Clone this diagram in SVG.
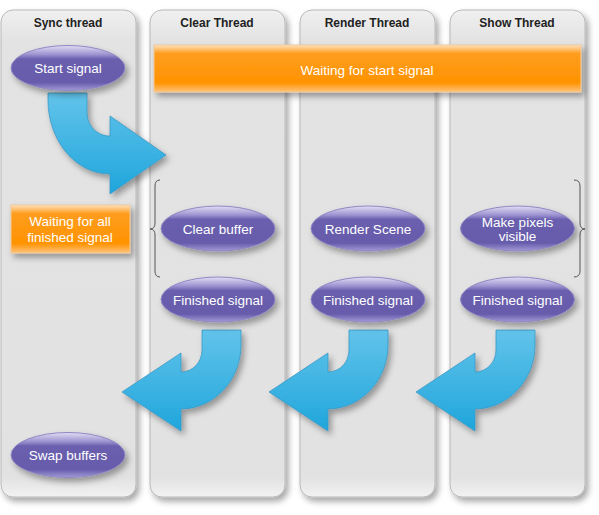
<svg xmlns="http://www.w3.org/2000/svg" width="599" height="515" viewBox="0 0 599 515">
<defs>
<linearGradient id="laneG" x1="0" y1="0" x2="0" y2="1">
<stop offset="0" stop-color="#f0f0f0"/><stop offset="0.06" stop-color="#e3e3e3"/><stop offset="0.96" stop-color="#e2e2e2"/><stop offset="1" stop-color="#f2f2f2"/>
</linearGradient>
<linearGradient id="orG" x1="0" y1="0" x2="0" y2="1">
<stop offset="0" stop-color="#ffe2bd"/><stop offset="0.18" stop-color="#ff9d1e"/><stop offset="0.8" stop-color="#ff9300"/><stop offset="1" stop-color="#ffc27a"/>
</linearGradient>
<linearGradient id="elG" x1="0" y1="0" x2="0" y2="1">
<stop offset="0" stop-color="#e2def4"/><stop offset="0.2" stop-color="#9c93d0"/><stop offset="0.3" stop-color="#6a5fae"/><stop offset="0.82" stop-color="#665bab"/><stop offset="1" stop-color="#a29ad6"/>
</linearGradient>
<linearGradient id="arG" x1="0" y1="0" x2="0" y2="1">
<stop offset="0" stop-color="#62c3ea"/><stop offset="1" stop-color="#1fa6dc"/>
</linearGradient>
<filter id="sh" x="-20%" y="-20%" width="150%" height="150%">
<feDropShadow dx="3" dy="4" stdDeviation="3" flood-color="#000" flood-opacity="0.35"/>
</filter>
</defs>
<style>
.lane{fill:url(#laneG);stroke:#b8b8b8;stroke-width:1;filter:url(#sh)}
.title{font-family:"Liberation Sans",Arial,sans-serif;font-weight:bold;font-size:12px;fill:#222;text-anchor:middle}
.or{fill:url(#orG);stroke:#f0c89a;stroke-width:1;filter:url(#sh)}
.el{fill:url(#elG);stroke:#9088c4;stroke-width:1;filter:url(#sh)}
.t{font-family:"Liberation Sans",Arial,sans-serif;font-size:13.5px;fill:#fff;text-anchor:middle}
.arr{fill:url(#arG);stroke:#3a98c4;stroke-width:0.8;filter:url(#sh)}
.br{fill:none;stroke:#555;stroke-width:1}
</style>

<g id="lane-sync"><rect class="lane" x="1" y="10" width="135" height="487" rx="12"/><text class="title" x="68" y="27">Sync thread</text></g>
<g id="lane-clear"><rect class="lane" x="150" y="10" width="135" height="487" rx="12"/><text class="title" x="217" y="27">Clear Thread</text></g>
<g id="lane-render"><rect class="lane" x="300" y="10" width="135" height="487" rx="12"/><text class="title" x="367" y="27">Render Thread</text></g>
<g id="lane-show"><rect class="lane" x="450" y="10" width="135" height="487" rx="12"/><text class="title" x="517" y="27">Show Thread</text></g>

<g id="wait-start"><rect class="or" x="154" y="45" width="427" height="47"/><text class="t" x="367" y="75">Waiting for start signal</text></g>
<g id="wait-all"><rect class="or" x="11" y="205" width="119" height="48"/><text class="t" x="70" y="226">Waiting for all</text><text class="t" x="70" y="242">finished signal</text></g>

<g id="connectors">
<path class="arr" d="M48,93 L87,93 L87,112 C87,126 97,136 110,136 L110,116 L166,155 L110,194 L110,174 C76,174 48,141 48,100 Z"/>
<path class="arr" d="M202,330 L241,330 L241,345 C241,380 214,409 181,409 L181,431 L122,392 L181,353 L181,372 C193,372 202,362 202,350 Z"/>
<path class="arr" d="M349,330 L388,330 L388,345 C388,380 361,409 328,409 L328,431 L269,392 L328,353 L328,372 C340,372 349,362 349,350 Z"/>
<path class="arr" d="M496,330 L535,330 L535,345 C535,380 508,409 475,409 L475,431 L416,392 L475,353 L475,372 C487,372 496,362 496,350 Z"/>
<path class="br" d="M160,180 Q155,180 155,186 L155,223 Q155,229 150,229 Q155,229 155,235 L155,271 Q155,277 160,277"/>
<path class="br" d="M574,180 Q580,180 580,186 L580,223 Q580,229 585,229 Q580,229 580,235 L580,271 Q580,277 574,277"/>
</g>

<g id="start-signal"><ellipse class="el" cx="68" cy="68" rx="57" ry="22.5"/><text class="t" x="68" y="73">Start signal</text></g>
<g id="clear-buffer"><ellipse class="el" cx="218" cy="228.5" rx="57" ry="22.5"/><text class="t" x="218" y="233.5">Clear buffer</text></g>
<g id="render-scene"><ellipse class="el" cx="368" cy="228.5" rx="57" ry="22.5"/><text class="t" x="368" y="233.5">Render Scene</text></g>
<g id="make-visible"><ellipse class="el" cx="517.5" cy="228.5" rx="57" ry="22.5"/><text class="t" x="517.5" y="227">Make pixels</text><text class="t" x="517.5" y="241">visible</text></g>
<g id="finished-clear"><ellipse class="el" cx="218" cy="299.5" rx="57" ry="22.5"/><text class="t" x="218" y="304.5">Finished signal</text></g>
<g id="finished-render"><ellipse class="el" cx="368" cy="299.5" rx="57" ry="22.5"/><text class="t" x="368" y="304.5">Finished signal</text></g>
<g id="finished-show"><ellipse class="el" cx="517.5" cy="299.5" rx="57" ry="22.5"/><text class="t" x="517.5" y="304.5">Finished signal</text></g>
<g id="swap-buffers"><ellipse class="el" cx="68" cy="455" rx="57" ry="22.5"/><text class="t" x="68" y="460">Swap buffers</text></g>
</svg>
